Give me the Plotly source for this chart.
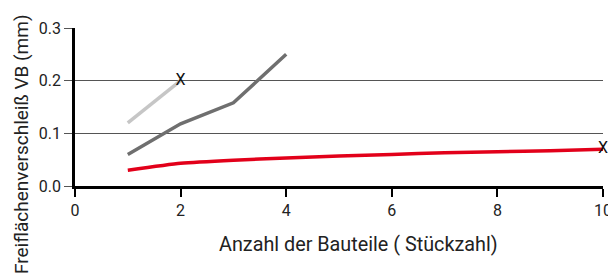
import plotly.graph_objects as go

# Data
x_light = [1, 2]
y_light = [0.12, 0.20]
x_dark = [1, 2, 3, 4]
y_dark = [0.060, 0.118, 0.158, 0.250]
x_red = [1, 2, 3, 4, 5, 6, 7, 8, 9, 10]
y_red = [0.030, 0.043, 0.049, 0.053, 0.057, 0.060, 0.063, 0.065, 0.067, 0.070]
x_marks = [2, 10]
y_marks = [0.20, 0.070]
x_ticks = [0, 2, 4, 6, 8, 10]
y_ticks = [0.0, 0.1, 0.2, 0.3]
y_ticklabels = ["0.0", "0.1", "0.2", "0.3"]
x_title = "Anzahl der Bauteile ( Stückzahl)"
y_title = "Freiflächenverschleiß VB (mm)"

OFF = 8  # page body margin
W, H = 616 - OFF, 280 - OFF
L, T = 75 - OFF, 28 - OFF
pw, ph = 528, 158
R, B = W - L - pw, H - T - ph

FONT = "Roboto"

def px_x(x):
    return (x - 75) / pw

def px_y(y):
    return (186 - y) / ph

fig = go.Figure()
fig.add_trace(go.Scatter(x=x_light, y=y_light, mode="lines",
                         line=dict(color="#c6c6c6", width=3.5), hoverinfo="skip"))
fig.add_trace(go.Scatter(x=x_dark, y=y_dark, mode="lines",
                         line=dict(color="#6f6f6f", width=3.5), hoverinfo="skip"))
fig.add_trace(go.Scatter(x=x_red, y=y_red, mode="lines",
                         line=dict(color="#e2001a", width=3.5, shape="spline", smoothing=0.5),
                         hoverinfo="skip"))
fig.add_trace(go.Scatter(x=x_marks, y=y_marks, mode="text", text=["X", "X"],
                         textposition="middle center", cliponaxis=False,
                         textfont=dict(family=FONT, size=16, color="#111111"),
                         hoverinfo="skip"))

fig.update_layout(
    width=W, height=H,
    margin=dict(l=L, r=R, t=T, b=B, pad=0, autoexpand=False),
    paper_bgcolor="white", plot_bgcolor="white",
    showlegend=False,
    font=dict(family=FONT, size=16, color="#222222"),
    xaxis=dict(range=[0, 10], tickvals=x_ticks, showgrid=False, zeroline=False,
               showline=True, linecolor="black", linewidth=2.5, automargin=False,
               ticks="outside", ticklen=8, tickwidth=1.5, tickcolor="black",
               tickfont=dict(family=FONT, size=16, color="#222222")),
    yaxis=dict(range=[0, 0.3], tickvals=y_ticks, ticktext=y_ticklabels,
               showgrid=True, gridcolor="#555555", gridwidth=1, zeroline=False,
               showline=True, linecolor="black", linewidth=2.5, automargin=False,
               ticks="outside", ticklen=8, tickwidth=1, tickcolor="#555555",
               tickfont=dict(family=FONT, size=16, color="#222222")),
    annotations=[
        dict(text=x_title, xref="paper", yref="paper",
             x=px_x(358), y=px_y(244), xanchor="center", yanchor="middle",
             showarrow=False, font=dict(family=FONT, size=19.8, color="#222222")),
        dict(text=y_title, xref="paper", yref="paper", textangle=-90,
             x=px_x(21), y=px_y(144), xanchor="center", yanchor="middle",
             showarrow=False, font=dict(family=FONT, size=19, color="#222222")),
    ],
)

fig.write_html("out.html")
